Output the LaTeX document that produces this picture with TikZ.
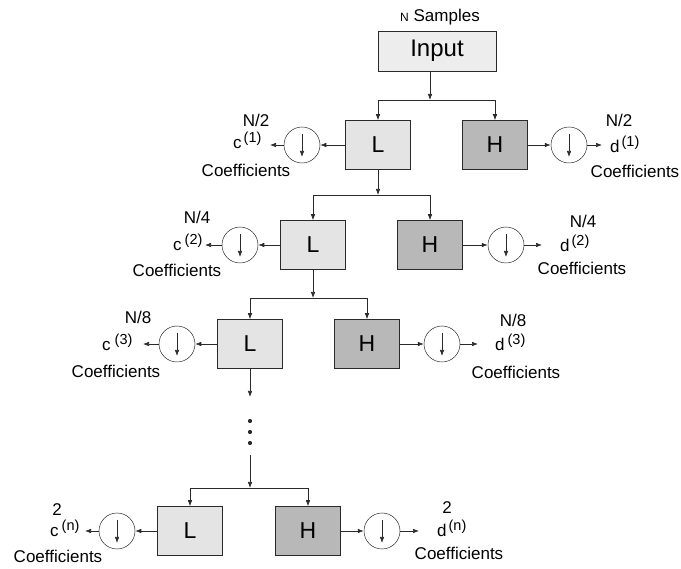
\documentclass[tikz,border=0pt]{standalone}
\usepackage{fontspec}
\setmainfont{Liberation Sans}
\usetikzlibrary{arrows.meta, positioning}
\definecolor{lgray}{HTML}{E4E4E4}
\definecolor{dgray}{HTML}{B8B8B8}
\definecolor{igray}{HTML}{EDEDED}
\definecolor{edgec}{HTML}{2A2A2A}
\newcommand{\supn}[1]{\raisebox{6pt}{\fontsize{14.5}{14.5}\selectfont(#1)}}
\tikzset{
    filt/.style={ % boxes for the filters
    draw=edgec, line width=0.6pt,
    minimum width=65pt, minimum height=49pt,
    inner sep=0pt, font=\fontsize{23}{23}\selectfont},
    lowpass/.style={filt, fill=lgray},
    highpass/.style={filt, fill=dgray},
    inbox/.style={filt, fill=igray, minimum width=118pt, minimum height=40pt,
    font=\fontsize{24}{24}\selectfont},
    dsamp/.style={circle, draw=edgec, line width=0.5pt,
    minimum size=36pt, inner sep=0pt},
    lbl/.style={font=\fontsize{17}{17}\selectfont, inner sep=0pt, anchor=base},
    conn/.style={draw=edgec, line width=0.6pt, -{Latex[length=6pt,width=4.5pt]}},
    wire/.style={draw=edgec, line width=0.6pt}}

\begin{document}
\begin{tikzpicture}[x=1pt, y=-1pt]
    \useasboundingbox (0,0) rectangle (681,569);

    % Input
    \node[lbl] (nsmp) at (440,22) {{\fontsize{12}{12}\selectfont N} Samples};
    \node[inbox] (in0) at (437,51) {Input};
    \coordinate (jn1) at (430,100);
    \draw[conn] (in0.south -| jn1) -- (jn1);
    \draw[wire] (jn1 -| 378,0) -- (jn1 -| 495,0);

    % Level 1
    \node[lowpass] (lo1) at (378,145) {L};
    \node[highpass] (hi1) at (495,145) {H};
    \draw[conn] (jn1 -| lo1) -- (lo1);
    \draw[conn] (jn1 -| hi1) -- (hi1);
    \node[dsamp] (dl1) at (302,145) {};
    \node[dsamp] (dh1) at (569,145) {};
    \coordinate (tl1) at (270,145);
    \coordinate (th1) at (602,145);
    \draw[conn] (lo1) -- (dl1);
    \draw[conn] (dl1) -- (tl1);
    \draw[conn] (hi1) -- (dh1);
    \draw[conn] (dh1) -- (th1);
    \node[lbl, anchor=base west] (cl1) at (233,149) {c\hspace{2pt}\supn{1}};
    \node[lbl] (nl1) at (256,127) {N/2};
    \node[lbl] (kl1) at (246,177) {Coefficients};
    \node[lbl, anchor=base west] (ch1) at (610,153) {d\hspace{2pt}\supn{1}};
    \node[lbl] (nh1) at (619,127) {N/2};
    \node[lbl] (kh1) at (635,178) {Coefficients};

    % Level 2
    \node[lowpass] (lo2) at (313,245) {L};
    \node[highpass] (hi2) at (430,245) {H};
    \coordinate (jn2) at (378,195);
    \draw[conn] (lo1) -- (jn2);
    \draw[wire] (jn2 -| lo2) -- (jn2 -| hi2);
    \draw[conn] (jn2 -| lo2) -- (lo2);
    \draw[conn] (jn2 -| hi2) -- (hi2);
    \node[dsamp] (dl2) at (240,245) {};
    \node[dsamp] (dh2) at (506,245) {};
    \coordinate (tl2) at (205,245);
    \coordinate (th2) at (542,245);
    \draw[conn] (lo2) -- (dl2);
    \draw[conn] (dl2) -- (tl2);
    \draw[conn] (hi2) -- (dh2);
    \draw[conn] (dh2) -- (th2);
    \node[lbl, anchor=base west] (cl2) at (173,251) {c\hspace{3pt}\supn{2}};
    \node[lbl] (nl2) at (197,224) {N/4};
    \node[lbl] (kl2) at (177,277) {Coefficients};
    \node[lbl, anchor=base west] (ch2) at (560,252) {d\hspace{2pt}\supn{2}};
    \node[lbl] (nh2) at (583,228) {N/4};
    \node[lbl] (kh2) at (582,275) {Coefficients};

    % Level 3
    \node[lowpass] (lo3) at (250,344) {L};
    \node[highpass] (hi3) at (367,344) {H};
    \coordinate (jn3) at (313,298);
    \draw[conn] (lo2) -- (jn3);
    \draw[wire] (jn3 -| lo3) -- (jn3 -| hi3);
    \draw[conn] (jn3 -| lo3) -- (lo3);
    \draw[conn] (jn3 -| hi3) -- (hi3);
    \node[dsamp] (dl3) at (177,344) {};
    \node[dsamp] (dh3) at (442,344) {};
    \coordinate (tl3) at (143,344);
    \coordinate (th3) at (478,344);
    \draw[conn] (lo3) -- (dl3);
    \draw[conn] (dl3) -- (tl3);
    \draw[conn] (hi3) -- (dh3);
    \draw[conn] (dh3) -- (th3);
    \node[lbl, anchor=base west] (cl3) at (102,351) {c\hspace{4pt}\supn{3}};
    \node[lbl] (nl3) at (138,324) {N/8};
    \node[lbl] (kl3) at (116,378) {Coefficients};
    \node[lbl, anchor=base west] (ch3) at (495,351) {d\hspace{3pt}\supn{3}};
    \node[lbl] (nh3) at (513,327) {N/8};
    \node[lbl] (kh3) at (516,379) {Coefficients};

    % dots
    \coordinate (ar3) at (250,397);
    \coordinate (ar4) at (250,455);
    \draw[conn] (lo3) -- (ar3);
    \foreach \yy in {421,432,443}
        \fill[edgec] (250,\yy) circle (2.1pt);

    % Level n
    \node[lowpass] (lo4) at (190,531) {L};
    \node[highpass] (hi4) at (308,531) {H};
    \coordinate (jn4) at (250,488);
    \draw[conn] (ar4) -- (jn4);
    \draw[wire] (jn4 -| lo4) -- (jn4 -| hi4);
    \draw[conn] (jn4 -| lo4) -- (lo4);
    \draw[conn] (jn4 -| hi4) -- (hi4);
    \node[dsamp] (dl4) at (117,531) {};
    \node[dsamp] (dh4) at (382,531) {};
    \coordinate (tl4) at (85,531);
    \coordinate (th4) at (419,531);
    \draw[conn] (lo4) -- (dl4);
    \draw[conn] (dl4) -- (tl4);
    \draw[conn] (hi4) -- (dh4);
    \draw[conn] (dh4) -- (th4);
    \node[lbl, anchor=base west] (cl4) at (50,537) {c\hspace{3pt}\supn{n}};
    \node[lbl] (nl4) at (57,516) {2};
    \node[lbl] (kl4) at (58,562) {Coefficients};
    \node[lbl, anchor=base west] (ch4) at (437,537) {d\hspace{2pt}\supn{n}};
    \node[lbl] (nh4) at (447,514) {2};
    \node[lbl] (kh4) at (459,560) {Coefficients};

    % down arrows inside the samplers
    \foreach \dd in {dl1,dh1,dl2,dh2,dl3,dh3,dl4,dh4}
        \draw[conn] ([yshift=11pt]\dd.center) -- ([yshift=-12pt]\dd.center);
\end{tikzpicture}
\end{document}
